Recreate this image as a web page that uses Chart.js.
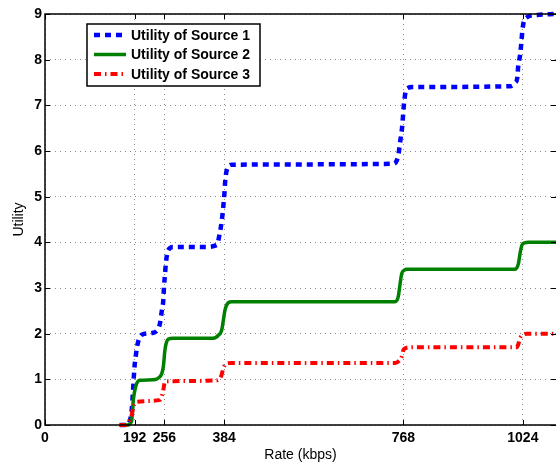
<!DOCTYPE html>
<html>
<head>
<meta charset="utf-8">
<script src="https://cdn.jsdelivr.net/npm/chart.js@4.4.1/dist/chart.umd.min.js"></script>
<style>
  html, body { margin: 0; padding: 0; background: #fff; }
  #wrap { width: 556px; height: 464px; }
</style>
</head>
<body>
<div id="wrap"><canvas id="grafico" width="556" height="464"></canvas></div>
<script>
// valores
const xTicks = [0, 192, 256, 384, 768, 1024];
const yTicks = [0, 1, 2, 3, 4, 5, 6, 7, 8, 9];
const labels = ["Utility of Source 1", "Utility of Source 2", "Utility of Source 3"];

const rate1 = [160, 176, 182, 186, 188, 190, 192, 195, 198, 202, 208, 232, 242, 246.5, 250, 253.5, 255, 257, 259, 264,
  275, 343, 368, 375, 379, 382, 384.5, 386, 389.5, 400, 746, 757, 761, 765, 767, 769, 772, 778, 787, 997,
  1008, 1012, 1014, 1018, 1021, 1023, 1029, 1055, 1095];
const util1 = [0, 0, 0.1, 0.35, 0.65, 1.0, 1.3, 1.55, 1.75, 1.9, 1.98, 2.02, 2.1, 2.23, 2.48, 2.73, 3.03, 3.28, 3.54, 3.83,
  3.9, 3.9, 3.94, 4.23, 4.49, 4.78, 5.07, 5.32, 5.58, 5.7, 5.72, 5.9, 6.2, 6.5, 6.74, 7.0, 7.26, 7.38, 7.4, 7.42,
  7.5, 7.6, 7.85, 8.1, 8.4, 8.65, 8.9, 8.98, 9.0];

const rate2 = [160, 178.6, 183, 185.8, 189.3, 193, 196.5, 203.6, 232, 246.5, 250, 253.6, 257, 260, 264.3, 275, 360.8, 372,
  378.7, 382, 385.8, 393, 400, 750, 757, 761, 764.5, 770, 775, 1007.5, 1014.6, 1018, 1022, 1028, 1036, 1095];
const util2 = [0, 0, 0.04, 0.1, 0.55, 0.78, 0.91, 0.98, 0.99, 1.06, 1.12, 1.28, 1.64, 1.8, 1.88, 1.9, 1.9, 1.97,
  2.08, 2.28, 2.52, 2.68, 2.7, 2.7, 2.81, 3.1, 3.32, 3.39, 3.41, 3.41, 3.54, 3.76, 3.94, 3.99, 4.0, 4.0];

const rate3 = [160, 171.5, 180, 185.8, 189.3, 193, 196.5, 246.5, 250, 253.6, 257, 262, 368, 375, 378.5, 382, 386, 389.5,
  400, 750, 758, 764.5, 768, 772, 778.8, 1010, 1014, 1018, 1024, 1032.6, 1095];
const util3 = [0, 0, 0.08, 0.22, 0.4, 0.47, 0.51, 0.55, 0.62, 0.77, 0.95, 0.96, 0.98, 1.02, 1.1, 1.24, 1.32, 1.35,
  1.36, 1.36, 1.4, 1.5, 1.64, 1.68, 1.7, 1.7, 1.76, 1.9, 1.97, 2.0, 2.0];

const fonte = "'Liberation Sans', Arial, Helvetica, sans-serif";
const estilos = [
  { color: "#0000ff", width: 4.5, dash: [6, 5] },
  { color: "#008000", width: 3.5, dash: [] },
  { color: "#ff0000", width: 4, dash: [7, 4, 1.5, 4] }
];

function pontos(r, u) {
  return r.map((x, i) => ({ x: x, y: u[i] }));
}

// eixos, ticks para dentro, borda superior e legenda estilo matlab
const moldura = {
  id: "moldura",
  afterDraw(chart) {
    const c = chart.ctx;
    const a = chart.chartArea;
    const sx = chart.scales.x, sy = chart.scales.y;
    c.save();
    c.setLineDash([]);
    c.strokeStyle = "#000";
    c.lineWidth = 1;
    c.beginPath();
    xTicks.forEach(v => {
      const px = Math.round(sx.getPixelForValue(v)) + 0.5;
      c.moveTo(px, a.bottom); c.lineTo(px, a.bottom - 5);
      c.moveTo(px, a.top); c.lineTo(px, a.top + 5);
    });
    yTicks.forEach(v => {
      const py = Math.round(sy.getPixelForValue(v)) + 0.5;
      c.moveTo(a.left, py); c.lineTo(a.left + 5, py);
      c.moveTo(a.right, py); c.lineTo(a.right - 5, py);
    });
    c.stroke();
    c.lineWidth = 1.5;
    c.beginPath();
    c.moveTo(a.right, a.top); c.lineTo(a.left, a.top);
    c.lineTo(a.left, a.bottom); c.lineTo(a.right, a.bottom);
    c.stroke();

    // legenda
    const bx = 87, by = 24, bw = 173, bh = 62;
    c.fillStyle = "#fff";
    c.fillRect(bx, by, bw, bh);
    c.lineWidth = 1.5;
    c.strokeStyle = "#000";
    c.strokeRect(bx, by, bw, bh);
    c.font = "bold 14px " + fonte;
    c.textBaseline = "middle";
    labels.forEach((t, i) => {
      const y = by + 11 + i * 19.5;
      const e = estilos[i];
      c.strokeStyle = e.color;
      c.lineWidth = e.width;
      c.setLineDash(e.dash);
      c.beginPath();
      c.moveTo(94, y); c.lineTo(126, y);
      c.stroke();
      c.setLineDash([]);
      c.fillStyle = "#000";
      c.fillText(t, 131, y + 1);
    });
    c.restore();
  }
};

const datasets = [
  { data: pontos(rate1, util1), order: 2 },
  { data: pontos(rate2, util2), order: 1 },
  { data: pontos(rate3, util3), order: 0 }
].map((d, i) => Object.assign(d, {
  label: labels[i],
  borderColor: estilos[i].color,
  borderWidth: estilos[i].width,
  borderDash: estilos[i].dash,
  pointRadius: 0,
  fill: false,
  cubicInterpolationMode: "monotone",
  clip: false
}));

new Chart(document.getElementById("grafico"), {
  type: "line",
  data: { datasets },
  plugins: [moldura],
  options: {
    responsive: false,
    animation: false,
    layout: { padding: { top: 14, right: 0, left: 0, bottom: 0 } },
    plugins: { legend: { display: false }, tooltip: { enabled: false } },
    scales: {
      x: {
        type: "linear",
        min: 0,
        max: 1095,
        afterBuildTicks: s => { s.ticks = xTicks.map(v => ({ value: v })); },
        afterFit: s => { s.height = 39; },
        ticks: {
          color: "#000",
          padding: 5,
          maxRotation: 0,
          autoSkip: false,
          font: { family: fonte, size: 14, weight: "bold" },
          callback: v => v
        },
        grid: { color: "#888", lineWidth: 1, drawTicks: false },
        border: { display: false, dash: [1, 4] },
        title: {
          display: true,
          text: "Rate (kbps)",
          color: "#000",
          font: { family: fonte, size: 14 },
          padding: { top: 0, bottom: 0 }
        }
      },
      y: {
        min: 0,
        max: 9,
        afterBuildTicks: s => { s.ticks = yTicks.map(v => ({ value: v })); },
        afterFit: s => { s.width = 45; },
        ticks: {
          color: "#000",
          padding: 3,
          font: { family: fonte, size: 14, weight: "bold" }
        },
        grid: { color: "#888", lineWidth: 1, drawTicks: false },
        border: { display: false, dash: [1, 4] },
        title: {
          display: true,
          text: "Utility",
          color: "#000",
          font: { family: fonte, size: 14 },
          padding: { top: 11, bottom: 0 }
        }
      }
    }
  }
});
</script>
</body>
</html>
